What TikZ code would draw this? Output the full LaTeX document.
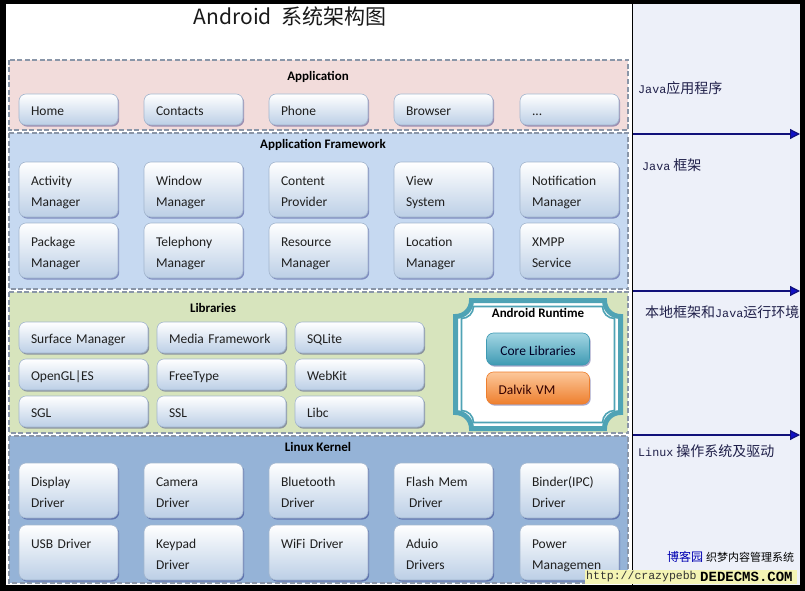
\documentclass[tikz,border=0pt]{standalone}
\usepackage{fontspec}
\setmainfont{Carlito}
\newfontfamily\cjk{Noto Sans CJK SC}
\newfontfamily\monof{Liberation Mono}
\usetikzlibrary{shadows,arrows.meta}
\definecolor{rightbg}{HTML}{EDF0F9}
\definecolor{appbg}{HTML}{F2DCDB}
\definecolor{fwbg}{HTML}{C6D9F1}
\definecolor{libbg}{HTML}{D7E4BD}
\definecolor{kerbg}{HTML}{95B3D7}
\definecolor{dashc}{HTML}{8A96A8}
\definecolor{boxbot}{HTML}{BCCFE6}
\definecolor{boxline}{HTML}{A3B6CE}
\definecolor{teal}{HTML}{4FA3B5}
\definecolor{coretop}{HTML}{A3D6E3}
\definecolor{corebot}{HTML}{3F9AB3}
\definecolor{dalvtop}{HTML}{FCC79A}
\definecolor{dalvbot}{HTML}{EE7F2E}
\definecolor{navy}{HTML}{10107A}
\definecolor{arrowblue}{HTML}{1010C8}
\definecolor{rtext}{HTML}{20204A}
\definecolor{wmyellow}{HTML}{F4F4B4}
\newcommand\cvr[5]{(#1+#5,#2) -- (#3-#5,#2) .. controls (#3-#5,#2+0.552*#5) and (#3-0.552*#5,#2+#5) .. (#3,#2+#5) -- (#3,#4-#5) .. controls (#3-0.552*#5,#4-#5) and (#3-#5,#4-0.552*#5) .. (#3-#5,#4) -- (#1+#5,#4) .. controls (#1+#5,#4-0.552*#5) and (#1+0.552*#5,#4-#5) .. (#1,#4-#5) -- (#1,#2+#5) .. controls (#1+0.552*#5,#2+#5) and (#1+#5,#2+0.552*#5) .. cycle}
\newcommand\bstrut{\rule[-4.3pt]{0pt}{21pt}}
\tikzset{
  panel/.style={draw=dashc, line width=1.1pt, dash pattern=on 5pt off 2.5pt},
  ptitle/.style={font=\fontsize{13}{15}\selectfont\bfseries, text=black, inner sep=0pt},
  box/.style={draw=boxline, line width=0.6pt, rounded corners=7pt, top color=white, bottom color=boxbot,
    inner xsep=12pt, inner ysep=0pt, align=left, text=black!88,
    font=\fontsize{13.5}{21}\selectfont,
    execute at begin node=\bstrut, execute at end node=\bstrut,
    drop shadow={shadow xshift=1.2pt, shadow yshift=-1.6pt, opacity=0.35, fill=black!60!blue}},
  abox/.style={box, minimum width=99pt, text width=75pt, minimum height=31pt},
  fbox/.style={box, minimum width=99pt, text width=75pt, minimum height=55pt},
  lbox/.style={box, minimum width=129pt, text width=105pt, minimum height=31pt},
  rtxt/.style={anchor=west, inner sep=0pt, text=rtext, font=\cjk\fontsize{14}{16}\selectfont},
  sidearrow/.style={draw=navy, line width=1.2pt, -{Triangle[length=10pt,width=10pt,fill=arrowblue]}}
}
\newcommand\jv[1]{{\monof\fontsize{11.7}{14}\selectfont #1}}
\begin{document}
\begin{tikzpicture}[x=1pt,y=-1pt]
\useasboundingbox (0,0) rectangle (805,591);
\fill[black] (0,0) rectangle (805,591);
\fill[white] (6,4) rectangle (800,585);
\fill[rightbg] (632,4) rectangle (800,585);

% title
\node[inner sep=0pt, font=\cjk\fontsize{21}{24}\selectfont, text=black!90] (title) at (290,16) {Android\ \ 系统架构图};

% panels
\path[panel, fill=appbg] (9,60) rectangle (628,130);
\path[panel, fill=fwbg] (9,133) rectangle (628,289);
\path[panel, fill=libbg] (9,292) rectangle (628,433);
\path[panel, fill=kerbg] (9,436) rectangle (628,583);

\node[ptitle] (tapp) at (318,76.5) {Application};
\node[ptitle] (tfw) at (323,144.5) {Application Framework};
\node[ptitle] (tlib) at (213,307.5) {Libraries};
\node[ptitle] (tker) at (318,447) {Linux Kernel};

% application row
\node[abox] (home) at (68.5,109.5) {Home};
\node[abox] (contacts) at (193.5,109.5) {Contacts};
\node[abox] (phone) at (318.5,109.5) {Phone};
\node[abox] (browser) at (443.5,109.5) {Browser};
\node[abox] (more) at (569.5,109.5) {...};

% framework
\node[fbox] (am) at (68.5,189.5) {Activity\\Manager};
\node[fbox] (wm) at (193.5,189.5) {Window\\Manager};
\node[fbox] (cp) at (318.5,189.5) {Content\\Provider};
\node[fbox] (vs) at (443.5,189.5) {View\\System};
\node[fbox] (nm) at (569.5,189.5) {Notification\\Manager};
\node[fbox] (pm) at (68.5,250.5) {Package\\Manager};
\node[fbox] (tm) at (193.5,250.5) {Telephony\\Manager};
\node[fbox] (rm) at (318.5,250.5) {Resource\\Manager};
\node[fbox] (lm) at (443.5,250.5) {Location\\Manager};
\node[fbox] (xs) at (569.5,250.5) {XMPP\\Service};

% libraries
\node[lbox] (sm) at (83.5,337.5) {Surface Manager};
\node[lbox] (mf) at (221.5,337.5) {Media Framework};
\node[lbox] (sq) at (359.5,337.5) {SQLite};
\node[lbox] (gl) at (83.5,374.5) {OpenGL|ES};
\node[lbox] (ft) at (221.5,374.5) {FreeType};
\node[lbox] (wk) at (359.5,374.5) {WebKit};
\node[lbox] (sgl) at (83.5,411.5) {SGL};
\node[lbox] (ssl) at (221.5,411.5) {SSL};
\node[lbox] (libc) at (359.5,411.5) {Libc};

% android runtime
\path[draw=teal, line width=5pt, fill=white] \cvr{455.5}{300.5}{620.5}{428.5}{16};
\path[draw=teal, line width=1.6pt] \cvr{461.5}{306.5}{614.5}{422.5}{12};
\node[ptitle] (trt) at (538,312.5) {Android Runtime};
\node[box, draw=corebot, top color=coretop, bottom color=corebot, minimum width=103pt, minimum height=32pt, inner xsep=0pt, align=center, text=black!85!blue] (core) at (538,349) {Core Libraries};
\node[box, draw=dalvbot, top color=dalvtop, bottom color=dalvbot, minimum width=103pt, text width=79pt, minimum height=32pt, text=black!80!red] (dalvik) at (538,388) {Dalvik VM};

% kernel
\node[fbox] (dd) at (68.5,490.5) {Display\\Driver};
\node[fbox] (cd) at (193.5,490.5) {Camera\\Driver};
\node[fbox] (bd) at (318.5,490.5) {Bluetooth\\Driver};
\node[fbox] (fd) at (443.5,490.5) {Flash Mem\\\hspace*{3pt}Driver};
\node[fbox] (bi) at (569.5,490.5) {Binder(IPC)\\Driver};
\node[fbox] (ud) at (68.5,552.5) {USB Driver\\\mbox{}};
\node[fbox] (kd) at (193.5,552.5) {Keypad\\Driver};
\node[fbox] (wd) at (318.5,552.5) {WiFi Driver\\\mbox{}};
\node[fbox] (ad) at (443.5,552.5) {Aduio\\Drivers};
\node[fbox] (pw) at (569.5,552.5) {Power\\Managemen};

% right column
\draw[black, line width=1pt] (632,4) -- (632,585);
\coordinate (a1s) at (633,134); \coordinate (a1e) at (800,134);
\coordinate (a2s) at (633,291); \coordinate (a2e) at (800,291);
\coordinate (a3s) at (633,435); \coordinate (a3e) at (800,435);
\draw[sidearrow] (a1s) -- (a1e);
\draw[sidearrow] (a2s) -- (a2e);
\draw[sidearrow] (a3s) -- (a3e);
\node[rtxt] (r1) at (638,88) {\jv{Java}应用程序};
\node[rtxt] (r2) at (642,165) {\jv{Java} 框架};
\node[rtxt] (r3) at (645,312) {本地框架和\jv{Java}运行环境};
\node[rtxt] (r4) at (638,451) {\jv{Linux} 操作系统及驱动};

% watermark
\fill[wmyellow] (585,570) rectangle (797,584);
\node[anchor=west, inner sep=0pt, text=black!80, font=\monof\fontsize{11.5}{13}\selectfont] (wurl) at (586,577) {http://crazypebb};
\node[anchor=west, inner sep=0pt, text=blue!70!black, font=\cjk\fontsize{12}{14}\selectfont] (wblog) at (667,557) {博客园};
\node[anchor=west, inner sep=0pt, text=black, font=\cjk\fontsize{11}{13}\selectfont] (wdede) at (706,557) {织梦内容管理系统};
\node[anchor=west, inner sep=0pt, text=black, font=\monof\bfseries\fontsize{14}{15}\selectfont] (wcom) at (700,577) {DEDECMS.COM};
\end{tikzpicture}
\end{document}
